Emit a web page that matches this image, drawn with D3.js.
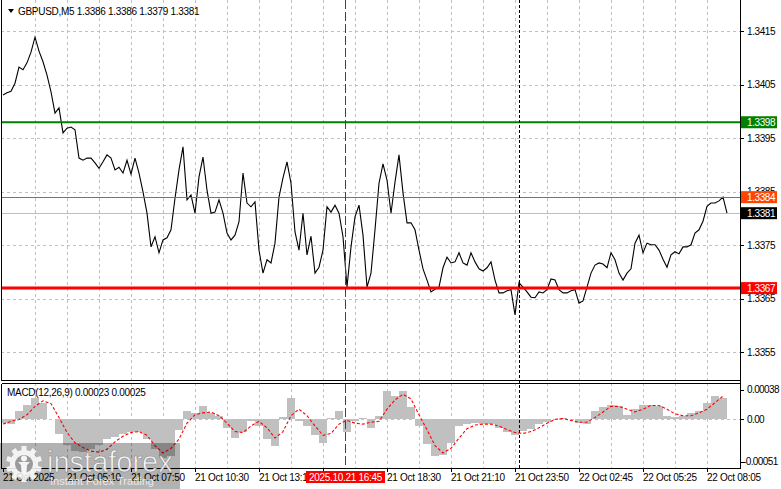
<!DOCTYPE html>
<html><head><meta charset="utf-8">
<script src="https://cdn.jsdelivr.net/npm/d3@7"></script>
<style>
html,body{margin:0;padding:0;background:#fff;overflow:hidden;}
svg{display:block;font-family:"Liberation Sans",Arial,sans-serif;}
</style></head><body>
<svg id="c" width="781" height="489"></svg>
<script>
// ---------------- DATA ----------------
const symbolLabel = "GBPUSD,M5";
const lastOHLC = ["1.3386", "1.3386", "1.3379", "1.3381"];
// close prices, one sample every 2 bars (M5)
const closes = [
1.34031,1.34035,1.34038,1.34053,1.34083,1.34078,1.34091,1.34111,1.34139,1.34113,
1.34093,1.34068,1.34037,1.33997,1.34007,1.33960,1.33969,1.33971,1.33966,1.33913,
1.33909,1.33913,1.33913,1.33904,1.33894,1.33906,1.33919,1.33913,1.33891,1.33896,
1.33885,1.33909,1.33883,1.33913,1.33885,1.33850,1.33810,1.33747,1.33766,1.33736,
1.33760,1.33764,1.33779,1.33838,1.33891,1.33934,1.33835,1.33844,1.33810,1.33878,
1.33915,1.33853,1.33810,1.33812,1.33835,1.33810,1.33773,1.33760,1.33769,1.33794,
1.33885,1.33829,1.33822,1.33831,1.33741,1.33698,1.33723,1.33717,1.33754,1.33840,
1.33876,1.33906,1.33866,1.33775,1.33741,1.33810,1.33732,1.33767,1.33698,1.33709,
1.33741,1.33822,1.33812,1.33825,1.33810,1.33766,1.33672,1.33747,1.33803,1.33825,
1.33769,1.33672,1.33698,1.33779,1.33866,1.33902,1.33872,1.33810,1.33868,1.33919,
1.33848,1.33792,1.33792,1.33779,1.33741,1.33706,1.33685,1.33663,1.33668,1.33672,
1.33708,1.33728,1.33717,1.33719,1.33736,1.33717,1.33713,1.33736,1.33719,1.33706,
1.33702,1.33708,1.33719,1.33685,1.33661,1.33661,1.33665,1.33667,1.33620,1.33680,
1.33672,1.33663,1.33653,1.33652,1.33663,1.33661,1.33667,1.33687,1.33685,1.33667,
1.33661,1.33661,1.33665,1.33667,1.33642,1.33646,1.33672,1.33698,1.33713,1.33717,
1.33715,1.33708,1.33736,1.33723,1.33698,1.33685,1.33698,1.33706,1.33754,1.33769,
1.33736,1.33754,1.33751,1.33751,1.33741,1.33724,1.33709,1.33732,1.33738,1.33734,
1.33747,1.33747,1.33751,1.33773,1.33779,1.33795,1.33823,1.33829,1.33829,1.33833,
1.33840,1.33810];
const priceTicks = [1.3415, 1.3405, 1.3395, 1.3385, 1.3375, 1.3365, 1.3355];
const priceDomain = [1.3355, 1.3415];
const resistanceLevel = 1.3398;
const supportLevel = 1.3367;
const askLevel = 1.3384;
const bidLevel = 1.3381;

// the 15:50 label (index 80) is hidden under the crosshair time tag in the reference
const timeTickIdx = [0,16,32,48,64,80,96,112,128,144,160,176];
const timeLabels = ["21 Oct 2025","21 Oct 05:10","21 Oct 07:50","21 Oct 10:30","21 Oct 13:10","",
  "21 Oct 18:30","21 Oct 21:10","21 Oct 23:50","22 Oct 02:45","22 Oct 05:25","22 Oct 08:05"];
const gridIdx = [8,16,24,32,40,48,56,64,72,80,88,96,104,112,120,128,136,144,152,160,168,176];
const crossIdx = 85.5;
const crossLabel = "2025.10.21 16:45";
const separatorIdx = 129;

// MACD(12,26,9): one value every 4 bars
const macdTitle = "MACD(12,26,9)";
const macdLast = ["0.00023", "0.00025"];
const macdMain = [
-0.00004,-0.00005,0.00009,0.00016,0.00023,0.00018,0,-0.00016,-0.00027,-0.00034,
-0.00035,-0.00032,-0.00027,-0.00021,-0.00019,-0.00016,-0.00014,-0.00014,-0.00021,-0.00032,
-0.00041,-0.00039,-0.00011,0.00009,0.00007,0.00014,0.00007,0.00004,-0.00009,-0.00020,
-0.00013,-0.00002,
-0.00007,-0.00021,-0.00029,0.00003,0.00023,-0.00002,-0.00007,-0.00017,-0.00025,0.00002,
0.00009,-0.00014,-0.00002,0.00002,-0.00009,0.00004,0.00030,0.00025,0.00030,0.00013,
-0.00007,-0.00026,-0.00039,-0.00038,-0.00025,-0.00007,-0.00005,-0.00004,-0.00005,-0.00005,
-0.00009,-0.00013,-0.00017,
-0.00012,-0.00010,-0.00005,-0.00003,0,0.00002,0,-0.00004,-0.00005,0.00009,
0.00013,0.00016,0.00014,0.00005,0.00011,0.00015,0.00016,0.00014,0.00004,0.00003,
0.00004,0.00007,0.00009,0.00018,0.00025,0.00023];
const macdSignal = [
-0.00005,-0.00002,0,0.00005,0.00014,0.00020,0.00017,0.00002,-0.00014,-0.00025,
-0.00030,-0.00034,-0.00035,-0.00032,-0.00024,-0.00018,-0.00014,-0.00013,-0.00017,-0.00028,
-0.00036,-0.00031,-0.00021,-0.00004,0.00005,0.00007,0.00008,0.00004,-0.00004,-0.00013,
-0.00014,-0.00007,
-0.00002,-0.00009,-0.00020,-0.00013,0.00004,0.00011,0.00004,-0.00007,-0.00017,-0.00015,
-0.00005,-0.00001,-0.00004,-0.00005,-0.00003,-0.00002,0.00011,0.00021,0.00027,0.00022,
0.00005,-0.00011,-0.00028,-0.00036,-0.00031,-0.00020,-0.00010,-0.00006,-0.00005,-0.00005,
-0.00007,-0.00011,-0.00014,
-0.00015,-0.00013,-0.00009,-0.00004,0,0.00001,-0.00001,-0.00003,-0.00003,0.00002,
0.00008,0.00014,0.00014,0.00011,0.00008,0.00011,0.00015,0.00015,0.00011,0.00006,
0.00004,0.00004,0.00007,0.00011,0.00018,0.00025];
const macdTicks = [0.00038, 0.00, -0.00051];
const macdTickText = ["0.00038", "0.00", "-0.00051"];

// ---------------- LAYOUT ----------------
const axisX = 740;
const mainTop = 0, mainBottom = 380;
const macdTop = 383, macdBottom = 468;

const svg = d3.select("#c");
const x = d3.scaleLinear().domain([0, closes.length - 1]).range([3, 727]);
const y = d3.scaleLinear().domain(priceDomain).range([352.3, 31.3]);
const ym = d3.scaleLinear().domain([-0.00051, 0.00038]).range([467, 384]);

const defs = svg.append("defs");
defs.append("clipPath").attr("id","clipMain").append("rect")
  .attr("x",1).attr("y",mainTop).attr("width",axisX-1).attr("height",mainBottom-mainTop);
defs.append("clipPath").attr("id","clipMacd").append("rect")
  .attr("x",1).attr("y",macdTop).attr("width",axisX-1).attr("height",macdBottom-macdTop);

const gridColor = "#c0c0c0";
const gridDash = "3,3";

// ---- main grid
const gMain = svg.append("g").attr("clip-path","url(#clipMain)");
gMain.selectAll("line.hg").data(priceTicks).join("line")
  .attr("x1",1).attr("x2",axisX).attr("y1",d=>Math.round(y(d))+0.5).attr("y2",d=>Math.round(y(d))+0.5)
  .attr("stroke",gridColor).attr("stroke-dasharray",gridDash);
gMain.selectAll("line.vg").data(gridIdx).join("line")
  .attr("x1",d=>Math.round(x(d))+0.5).attr("x2",d=>Math.round(x(d))+0.5)
  .attr("y1",mainTop).attr("y2",mainBottom)
  .attr("stroke",gridColor).attr("stroke-dasharray",gridDash);

// bid line (grey)
gMain.append("line").attr("x1",1).attr("x2",axisX)
  .attr("y1",Math.round(y(bidLevel))+0.5).attr("y2",Math.round(y(bidLevel))+0.5)
  .attr("stroke","#bdbdbd").attr("stroke-width",1);

// price line
gMain.append("path").datum(closes)
  .attr("d", d3.line().x((d,i)=>x(i)).y(d=>y(d)))
  .attr("fill","none").attr("stroke","#000").attr("stroke-width",1.1);

// ask line (orange), resistance (green), support (red)
gMain.append("line").attr("x1",1).attr("x2",axisX)
  .attr("y1",Math.round(y(askLevel))+0.5).attr("y2",Math.round(y(askLevel))+0.5)
  .attr("stroke","#ff4500").attr("stroke-width",1);
gMain.append("line").attr("x1",1).attr("x2",axisX)
  .attr("y1",y(resistanceLevel)).attr("y2",y(resistanceLevel))
  .attr("stroke","#008000").attr("stroke-width",2.2);
gMain.append("line").attr("x1",1).attr("x2",axisX)
  .attr("y1",y(supportLevel)).attr("y2",y(supportLevel))
  .attr("stroke","#ff0000").attr("stroke-width",3);

// ---- MACD panel
const gM = svg.append("g").attr("clip-path","url(#clipMacd)");
gM.selectAll("line.vg").data(gridIdx).join("line")
  .attr("x1",d=>Math.round(x(d))+0.5).attr("x2",d=>Math.round(x(d))+0.5)
  .attr("y1",macdTop).attr("y2",macdBottom)
  .attr("stroke",gridColor).attr("stroke-dasharray",gridDash);
gM.append("line").attr("x1",1).attr("x2",axisX)
  .attr("y1",Math.round(ym(0))+0.5).attr("y2",Math.round(ym(0))+0.5)
  .attr("stroke",gridColor).attr("stroke-dasharray",gridDash);
const step = x(2) - x(0);
gM.selectAll("rect.h").data(macdMain).join("rect")
  .attr("x",(d,j)=>x(2*j)-step/2)
  .attr("width",step)
  .attr("y",d=>Math.min(ym(d),ym(0)))
  .attr("height",d=>Math.max(0.0001,Math.abs(ym(d)-ym(0))))
  .attr("fill","#c0c0c0").attr("shape-rendering","crispEdges");
gM.append("path").datum(macdSignal)
  .attr("d", d3.line().x((d,j)=>x(2*j)).y(d=>ym(d)))
  .attr("fill","none").attr("stroke","#ff0000").attr("stroke-width",1.1)
  .attr("stroke-dasharray","3,2");

// ---- vertical markers
svg.append("line").attr("x1",Math.round(x(separatorIdx))+0.5).attr("x2",Math.round(x(separatorIdx))+0.5)
  .attr("y1",0).attr("y2",macdBottom).attr("stroke","#000").attr("stroke-dasharray","3,2");
svg.append("line").attr("x1",Math.round(x(crossIdx))+0.5).attr("x2",Math.round(x(crossIdx))+0.5)
  .attr("y1",0).attr("y2",macdBottom).attr("stroke","#e00000").attr("stroke-dasharray","9,3");

// ---- frames
const frame = svg.append("g").attr("stroke","#000").attr("fill","none").attr("shape-rendering","crispEdges");
frame.append("line").attr("x1",1.5).attr("x2",1.5).attr("y1",0).attr("y2",mainBottom+0.5);
frame.append("line").attr("x1",1.5).attr("x2",axisX+0.5).attr("y1",mainBottom+0.5).attr("y2",mainBottom+0.5);
frame.append("line").attr("x1",1.5).attr("x2",1.5).attr("y1",macdTop+0.5).attr("y2",macdBottom+0.5);
frame.append("line").attr("x1",1.5).attr("x2",axisX+0.5).attr("y1",macdTop+0.5).attr("y2",macdTop+0.5);
frame.append("line").attr("x1",1.5).attr("x2",axisX+0.5).attr("y1",macdBottom+0.5).attr("y2",macdBottom+0.5);
frame.append("line").attr("x1",axisX+0.5).attr("x2",axisX+0.5).attr("y1",0).attr("y2",macdBottom+0.5);

// ---- right price axis
const fontSize = 10;
const axisG = svg.append("g");
axisG.selectAll("line.t").data(priceTicks).join("line")
  .attr("x1",axisX).attr("x2",axisX+4).attr("y1",d=>Math.round(y(d))+0.5).attr("y2",d=>Math.round(y(d))+0.5)
  .attr("stroke","#000");
axisG.selectAll("text.t").data(priceTicks).join("text")
  .attr("x",747).attr("y",d=>y(d)).attr("dy","0.35em")
  .attr("font-size",fontSize).attr("letter-spacing","-0.4px").attr("fill","#000")
  .text(d=>d.toFixed(4));

function tag(v, bg, fg){
  const yy = y(v);
  axisG.append("rect").attr("x",741).attr("y",yy-6).attr("width",36).attr("height",12).attr("fill",bg);
  axisG.append("text").attr("x",747).attr("y",yy).attr("dy","0.35em")
    .attr("font-size",fontSize).attr("letter-spacing","-0.4px").attr("fill",fg).text(v.toFixed(4));
}
tag(resistanceLevel, "#008000", "#fff");
tag(askLevel, "#ff4500", "#fff");
tag(bidLevel, "#000", "#fff");
tag(supportLevel, "#ff0000", "#fff");

// ---- MACD axis
const labelOffsets = [5.5, 0, -5.5];
const labelX = [747, 747, 743];
axisG.selectAll("line.m").data(macdTicks).join("line")
  .attr("x1",axisX).attr("x2",axisX+4)
  .attr("y1",(d,i)=>Math.round(ym(d)+labelOffsets[i])+0.5).attr("y2",(d,i)=>Math.round(ym(d)+labelOffsets[i])+0.5)
  .attr("stroke","#000");
axisG.selectAll("text.m").data(macdTicks).join("text")
  .attr("x",(d,i)=>labelX[i]).attr("y",(d,i)=>ym(d)+labelOffsets[i]).attr("dy","0.35em")
  .attr("font-size",fontSize).attr("letter-spacing","-0.6px").attr("fill","#000")
  .text((d,i)=>macdTickText[i]);

// ---- bottom time axis
const tG = svg.append("g");
tG.selectAll("line").data(timeTickIdx).join("line")
  .attr("x1",d=>Math.round(x(d))+0.5).attr("x2",d=>Math.round(x(d))+0.5)
  .attr("y1",macdBottom).attr("y2",macdBottom+4).attr("stroke","#000");
tG.selectAll("text").data(timeTickIdx.filter((d,i)=>timeLabels[i]!=="")).join("text")
  .attr("x",d=>x(d)).attr("y",481)
  .attr("font-size",fontSize).attr("letter-spacing","-0.3px").attr("fill","#000")
  .text(d=>timeLabels[timeTickIdx.indexOf(d)]);

// crosshair time tag
const cx = x(crossIdx);
tG.append("rect").attr("x",cx-39).attr("y",471).attr("width",79).attr("height",12).attr("fill","#ff0000");
tG.append("text").attr("x",cx+0.5).attr("y",481).attr("text-anchor","middle")
  .attr("font-size",fontSize).attr("letter-spacing","-0.3px").attr("fill","#fff").text(crossLabel);

// ---- titles
svg.append("path").attr("d","M8,9 L14,9 L11,13 Z").attr("fill","#000");
svg.append("text").attr("x",18).attr("y",14.5).attr("font-size",fontSize).attr("letter-spacing","-0.3px")
  .attr("fill","#000").text(symbolLabel + "  " + lastOHLC.join(" "));
svg.append("text").attr("x",7).attr("y",396).attr("font-size",fontSize).attr("letter-spacing","-0.3px")
  .attr("fill","#000").text(macdTitle + " " + macdLast.join(" "));

// ---- watermark
const wm = svg.append("g");
wm.append("rect").attr("x",0).attr("y",443).attr("width",180).attr("height",46).attr("fill","#000").attr("opacity",0.3);
const gear = wm.append("g").attr("transform","translate(24,464)").attr("fill","#fff").attr("opacity",0.85);
for (let k = 0; k < 10; k++) gear.append("rect").attr("x",-2.5).attr("y",-18).attr("width",5).attr("height",6)
  .attr("transform",`rotate(${k*36})`);
gear.append("circle").attr("r",14);
wm.append("circle").attr("cx",24).attr("cy",464).attr("r",9).attr("fill","#9a9a9a");
wm.append("circle").attr("cx",24).attr("cy",458.5).attr("r",3).attr("fill","#fff").attr("opacity",0.9);
wm.append("path").attr("d","M18,462 L30,462 L27,465 L26.5,473 L21.5,473 L21,465 Z").attr("fill","#fff").attr("opacity",0.9);
wm.append("text").attr("x",47).attr("y",472).attr("font-size",29).attr("fill","#fff").attr("opacity",0.88)
  .attr("stroke","#8a8a8a").attr("stroke-width",0.6).text("instaforex");
wm.append("text").attr("x",50).attr("y",485).attr("font-size",11).attr("fill","#f0f0f0").attr("opacity",0.9)
  .text("Instant Forex Trading");
</script>
</body></html>
